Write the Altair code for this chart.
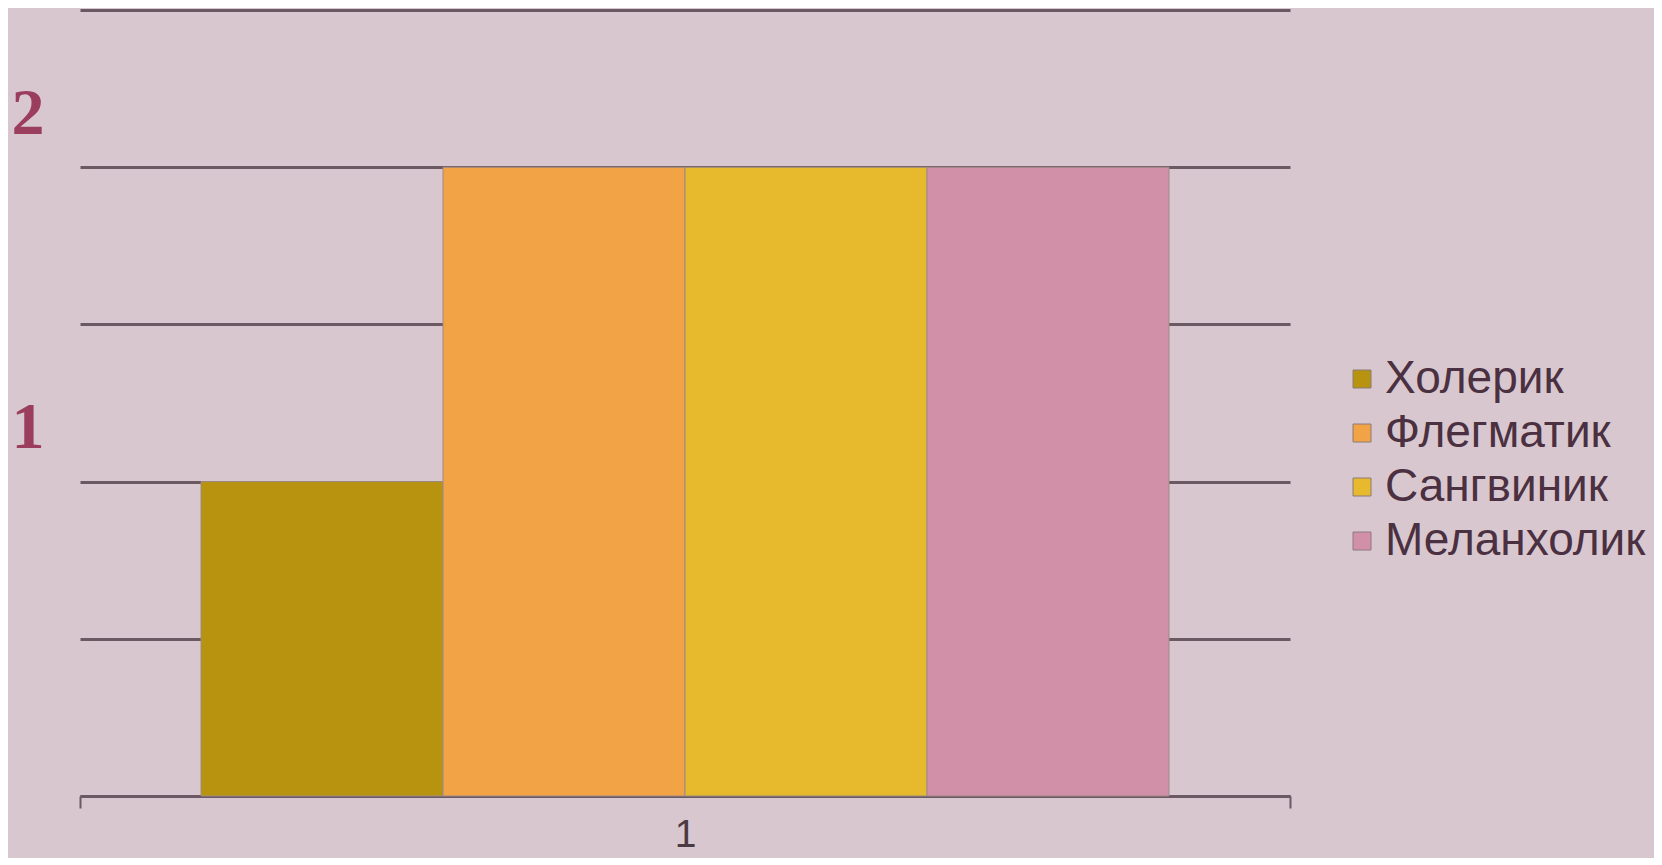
import altair as alt
import pandas as pd

categories = ["1"]
types = ["Холерик", "Флегматик", "Сангвиник", "Меланхолик"]
values = [1, 2, 2, 2]
colors = ["#b8930f", "#f1a345", "#e6ba2c", "#d290a8"]

df = pd.DataFrame({
    "cat": categories * len(types),
    "type": types,
    "value": values,
})

grid_vals = [0, 0.5, 1, 1.5, 2, 2.5]

chart = alt.Chart(df).mark_bar(stroke="#9c8a86", strokeWidth=1).encode(
    x=alt.X("cat:N", title=None,
            scale=alt.Scale(paddingInner=0, paddingOuter=0),
            axis=alt.Axis(labelAngle=0, tickBand="extent", ticks=True, tickSize=12,
                          tickWidth=2, tickColor="#6b5863", domain=True,
                          domainColor="#6b5863", domainWidth=3,
                          labelFont="Liberation Sans", labelFontSize=39,
                          labelColor="#4a3a42", labelPadding=7)),
    xOffset=alt.XOffset("type:N", sort=types,
                        scale=alt.Scale(paddingInner=0, paddingOuter=0.5)),
    y=alt.Y("value:Q", title=None,
            scale=alt.Scale(domain=[0, 2.5], nice=False),
            axis=alt.Axis(values=grid_vals, grid=True, gridColor="#6b5863",
                          gridWidth=3, gridOpacity=1, domain=False, ticks=False,
                          labelExpr="(datum.value == 1 || datum.value == 2) ? toString(datum.value) : ''",
                          labelFont="Liberation Serif", labelFontWeight="bold",
                          labelFontSize=66, labelColor="#9b3d5d", labelPadding=36,
                          labelOffset=-54)),
    color=alt.Color("type:N", sort=types, title=None,
                    scale=alt.Scale(domain=types, range=colors),
                    legend=alt.Legend(orient="none", legendX=1251, legendY=346,
                                      symbolType="square", symbolSize=324,
                                      symbolOffset=8,
                                      symbolStrokeColor="#8a7a7a", symbolStrokeWidth=1,
                                      labelFont="Liberation Sans", labelFontSize=46,
                                      labelColor="#4a3040", labelOffset=0,
                                      rowPadding=8, labelLimit=400)),
).properties(
    width=1210,
    height=786,
    background="#d9c7cf",
    padding={"left": 72, "top": 2, "right": 364, "bottom": 62},
    autosize=alt.AutoSizeParams(type="none"),
).configure_view(stroke=None)

chart.save("out.html", embed_options={"renderer": "svg", "actions": False})
